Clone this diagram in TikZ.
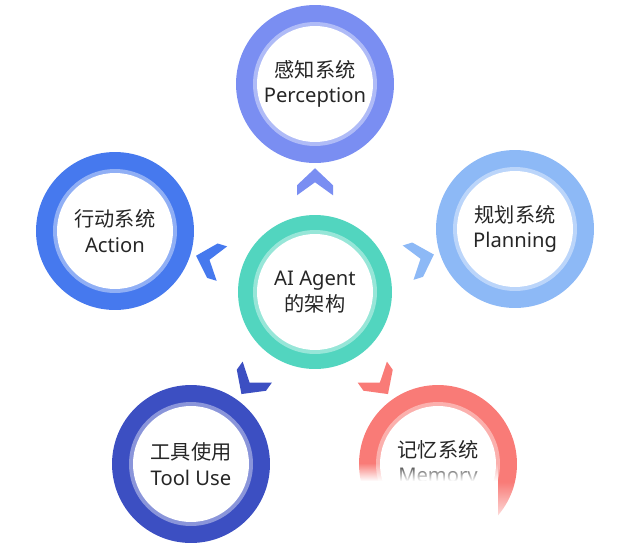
\documentclass[tikz,border=0pt]{standalone}
\usepackage{fontspec}
\setmainfont{Noto Sans}
\newfontfamily\cjk{Noto Sans CJK SC}
\usetikzlibrary{decorations.markings,fadings}

\definecolor{percol}{HTML}{7A8EF2}
\definecolor{actcol}{HTML}{4679EE}
\definecolor{plancol}{HTML}{8DB9F6}
\definecolor{hubcol}{HTML}{52D5BF}
\definecolor{toolcol}{HTML}{3C4FC2}
\definecolor{memcol}{HTML}{F97B77}

\begin{document}
\begin{tikzpicture}[x=0.02cm, y=-0.02cm,
    ring/.style={circle, inner sep=0pt, minimum size=3.16cm, fill=#1, align=center,
        text=black!85, font=\fontsize{11.5}{14.5}\selectfont,
        path picture={\fill[#1!60!white] (path picture bounding box.center) circle (1.24cm);
            \fill[white] (path picture bounding box.center) circle (1.16cm);}},
    chevron/.style={postaction={decorate, decoration={markings, mark=at position 0.53 with
        {\fill[#1] (13.5,0) -- (-3.5,18) -- (-13.5,18) -- (-0.5,0) -- (-13.5,-18) -- (-3.5,-18) -- cycle;}}}}]
    \useasboundingbox (0,0) rectangle (640,555);
    % Draw the hub and the five parts
    \node[ring=hubcol, minimum size=3.08cm] (hub) at (315,292) {AI Agent\\{\cjk 的架构}};
    \node[ring=percol] (percep) at (315,84) {{\cjk 感知系统}\\Perception};
    \node[ring=actcol] (action) at (115,231) {{\cjk 行动系统}\\Action};
    \node[ring=plancol] (plan) at (515,229) {{\cjk 规划系统}\\Planning};
    \node[ring=toolcol] (tool) at (191,464) {{\cjk 工具使用}\\Tool Use};
    \node[ring=memcol] (memory) at (438,464) {{\cjk 记忆系统}\\Memory};
    % Chevrons pointing from the hub outwards
    \path[chevron=percol] (hub.center) -- (percep.center);
    \path[chevron=actcol] (hub.center) -- (action.center);
    \path[chevron=plancol] (hub.center) -- (plan.center);
    \path[chevron=toolcol] (hub.center) -- (tool.center);
    \path[chevron=memcol] (hub.center) -- (memory.center);
    % White fade over the bottom of the memory part
    \fill[white] (345,481) rectangle (498,555);
    \fill[white, path fading=north] (345,463) rectangle (498,481);
    \fill[white] (498,528) rectangle (545,555);
    \fill[white, path fading=north] (498,482) rectangle (545,528);
\end{tikzpicture}
\end{document}
